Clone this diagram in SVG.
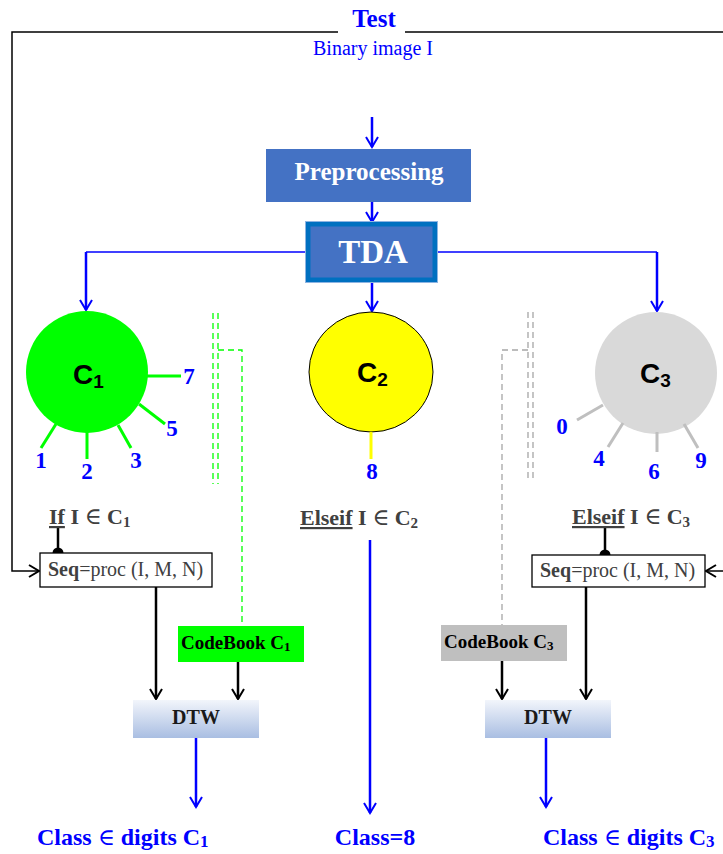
<svg xmlns="http://www.w3.org/2000/svg" width="723" height="854" viewBox="0 0 723 854">
<defs>
<marker id="ab" markerWidth="14" markerHeight="14" refX="12" refY="7" orient="auto" markerUnits="userSpaceOnUse" viewBox="0 0 14 14">
<path d="M2,1 L12,7 L2,13" fill="none" stroke="#0000FF" stroke-width="2"/>
</marker>
<marker id="ak" markerWidth="14" markerHeight="14" refX="12" refY="7" orient="auto" markerUnits="userSpaceOnUse" viewBox="0 0 14 14">
<path d="M2,1 L12,7 L2,13" fill="none" stroke="#000" stroke-width="2"/>
</marker>
<linearGradient id="dtwg" x1="0" y1="0" x2="0" y2="1">
<stop offset="0" stop-color="#F2F5FB"/>
<stop offset="1" stop-color="#A9BEE2"/>
</linearGradient>
</defs>
<style>
.serif{font-family:"Liberation Serif","Times New Roman",serif}
.sans{font-family:"Liberation Sans",Arial,sans-serif}
.blue{fill:#0000FF}
.b{font-weight:bold}
.dig{font-family:"Liberation Serif",serif;font-weight:bold;font-size:23px;fill:#0000FF;text-anchor:middle}
.clab{font-family:"Liberation Sans",Arial,sans-serif;font-weight:bold;font-size:28px;fill:#000}
.cond{font-family:"Liberation Serif",serif;font-size:22px;fill:#404040;font-weight:bold}
.el{font-weight:normal;font-family:"DejaVu Serif","Liberation Serif",serif;font-size:23px}
.seq{font-family:"Liberation Serif",serif;font-size:20px;fill:#404040}
.bl{stroke:#0000FF;stroke-width:2.5;fill:none}
.bk{stroke:#000;stroke-width:2.5;fill:none}
.thin{stroke:#000;stroke-width:1.5;fill:none}
.gd{stroke:#00FF00;stroke-width:1.3;stroke-dasharray:6,4;fill:none}
.yd{stroke:#A6A6A6;stroke-width:1.3;stroke-dasharray:6,4;fill:none}
.cls{font-family:"Liberation Serif",serif;font-weight:bold;font-size:24px;fill:#0000FF}
</style>

<g id="connectors">
<path class="thin" d="M338,32 H12 V571 H39" marker-end="url(#ak)"/>
<path class="thin" d="M405,32 H723"/>
<path class="thin" d="M723,571 H706" marker-end="url(#ak)"/>
<path class="bl" d="M372,117 V147" marker-end="url(#ab)"/>
<path class="bl" d="M372,202 V222" marker-end="url(#ab)"/>
<path stroke="#0000FF" stroke-width="1.5" fill="none" d="M307,252 H86"/>
<path class="bl" d="M86,252 V310" marker-end="url(#ab)"/>
<path stroke="#0000FF" stroke-width="1.5" fill="none" d="M436,252 H657"/>
<path class="bl" d="M657,252 V311" marker-end="url(#ab)"/>
<path class="bl" d="M372,281 V311" marker-end="url(#ab)"/>
<path class="gd" d="M213,313 V484 M218,313 V484"/>
<path class="gd" d="M218,350 H242 V626"/>
<path class="yd" d="M528,312 V482 M533,312 V482"/>
<path class="yd" d="M528,350 H502 V625"/>
<path class="bk" d="M58,527 V553"/>
<circle cx="58" cy="553" r="5.5" fill="#000"/>
<path class="bk" d="M156,587 V699" marker-end="url(#ak)"/>
<path class="bk" d="M238,662 V699" marker-end="url(#ak)"/>
<path class="bl" d="M196,738 V807" marker-end="url(#ab)"/>
<path class="bl" d="M370,540 V813" marker-end="url(#ab)"/>
<path class="bk" d="M605,528 V555"/>
<circle cx="605" cy="555" r="5.5" fill="#000"/>
<path class="bk" d="M586,587 V699" marker-end="url(#ak)"/>
<path class="bk" d="M502,661 V699" marker-end="url(#ak)"/>
<path class="bl" d="M546,738 V807" marker-end="url(#ab)"/>
</g>

<g id="title">
<text x="374" y="27" text-anchor="middle" class="serif b blue" font-size="25">Test</text>
<text x="373" y="55" text-anchor="middle" class="serif blue" font-size="20">Binary image I</text>
</g>

<g id="preprocessing">
<rect x="266" y="149" width="205" height="53" fill="#4472C4"/>
<text x="369" y="180" text-anchor="middle" class="serif b" font-size="25" fill="#fff">Preprocessing</text>
</g>

<g id="tda">
<rect x="308" y="224" width="127" height="56" fill="#4472C4" stroke="#0070C0" stroke-width="5"/>
<rect x="305.5" y="221.5" width="132" height="61" fill="none" stroke="#8DB4E2" stroke-width="1"/>
<text x="373" y="263" text-anchor="middle" class="serif b" font-size="33" fill="#fff">TDA</text>
</g>

<g id="c1">
<circle cx="87" cy="372" r="61" fill="#00FF00"/>
<g stroke="#00FF00" stroke-width="3">
<line x1="147" y1="376" x2="181" y2="376"/>
<line x1="139" y1="404" x2="165" y2="424"/>
<line x1="118" y1="425" x2="131" y2="448"/>
<line x1="87" y1="432" x2="87" y2="459"/>
<line x1="56" y1="424" x2="41" y2="448"/>
</g>
<text x="73" y="384" class="clab">C<tspan font-size="19" dy="4">1</tspan></text>
<text x="189" y="384" class="dig">7</text>
<text x="172" y="436" class="dig">5</text>
<text x="136" y="468" class="dig">3</text>
<text x="87" y="479" class="dig">2</text>
<text x="41" y="468" class="dig">1</text>
</g>

<g id="c2">
<ellipse cx="371" cy="372" rx="62" ry="60" fill="#FFFF00" stroke="#000" stroke-width="1"/>
<line x1="371" y1="432" x2="371" y2="459" stroke="#FFFF00" stroke-width="3"/>
<text x="357" y="382" class="clab">C<tspan font-size="19" dy="4">2</tspan></text>
<text x="372" y="479" class="dig">8</text>
</g>

<g id="c3">
<circle cx="656" cy="373" r="61" fill="#D9D9D9"/>
<g stroke="#BFBFBF" stroke-width="3">
<line x1="603" y1="405" x2="577" y2="420"/>
<line x1="623" y1="423" x2="608" y2="447"/>
<line x1="657" y1="432" x2="657" y2="452"/>
<line x1="684" y1="424" x2="698" y2="448"/>
</g>
<text x="640" y="383" class="clab">C<tspan font-size="19" dy="4">3</tspan></text>
<text x="562" y="434" class="dig">0</text>
<text x="599" y="466" class="dig">4</text>
<text x="654" y="479" class="dig">6</text>
<text x="701" y="468" class="dig">9</text>
</g>

<g id="cond1">
<text x="49" y="524" class="cond"><tspan text-decoration="underline">If</tspan> I <tspan class="el">∈</tspan> C<tspan font-size="15" dy="3">1</tspan></text>
</g>
<g id="cond2">
<text x="300" y="525" class="cond"><tspan text-decoration="underline">Elseif</tspan> I <tspan class="el">∈</tspan> C<tspan font-size="15" dy="3">2</tspan></text>
</g>
<g id="cond3">
<text x="572" y="524" class="cond"><tspan text-decoration="underline">Elseif</tspan> I <tspan class="el">∈</tspan> C<tspan font-size="15" dy="3">3</tspan></text>
</g>

<g id="seq1">
<rect x="40" y="553" width="172" height="34" fill="#fff" stroke="#000" stroke-width="1.3"/>
<text x="48" y="576" class="seq"><tspan font-weight="bold">Seq</tspan>=proc (I, M, N)</text>
</g>
<g id="seq3">
<rect x="532" y="555" width="173" height="32" fill="#fff" stroke="#000" stroke-width="1.3"/>
<text x="540" y="577" class="seq"><tspan font-weight="bold">Seq</tspan>=proc (I, M, N)</text>
</g>

<g id="codebook1">
<rect x="178" y="626" width="126" height="36" fill="#00FF00"/>
<text x="181" y="649" class="serif b" font-size="19" fill="#000">CodeBook C<tspan font-size="13" dy="2">1</tspan></text>
</g>
<g id="codebook3">
<rect x="441" y="625" width="126" height="36" fill="#BFBFBF"/>
<text x="444" y="648" class="serif b" font-size="19" fill="#000">CodeBook C<tspan font-size="13" dy="2">3</tspan></text>
</g>

<g id="dtw1">
<rect x="133" y="700" width="126" height="38" fill="url(#dtwg)"/>
<text x="196" y="724" text-anchor="middle" class="serif b" font-size="20" fill="#1a1a1a">DTW</text>
</g>
<g id="dtw3">
<rect x="485" y="700" width="126" height="38" fill="url(#dtwg)"/>
<text x="548" y="724" text-anchor="middle" class="serif b" font-size="20" fill="#1a1a1a">DTW</text>
</g>

<g id="out1">
<text x="37" y="845" class="cls">Class <tspan class="el" font-size="24">∈</tspan> digits C<tspan font-size="17" dy="2">1</tspan></text>
</g>
<g id="out2">
<text x="375" y="845" text-anchor="middle" class="cls">Class=8</text>
</g>
<g id="out3">
<text x="543" y="845" class="cls">Class <tspan class="el" font-size="24">∈</tspan> digits C<tspan font-size="17" dy="2">3</tspan></text>
</g>
</svg>
